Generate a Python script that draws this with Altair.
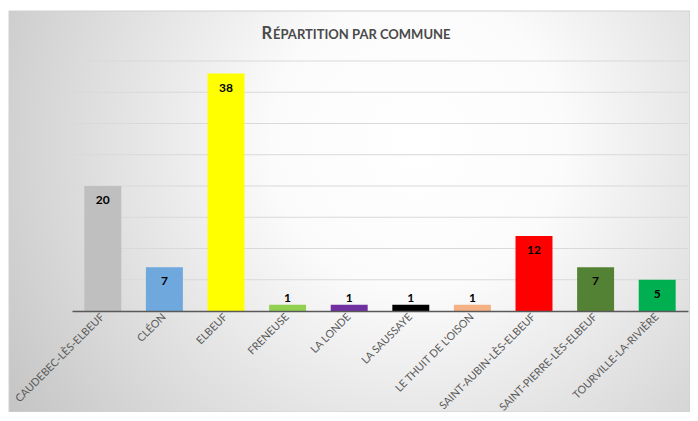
import altair as alt
import pandas as pd

communes = ["CAUDEBEC-LÈS-ELBEUF", "CLÉON", "ELBEUF", "FRENEUSE", "LA LONDE",
            "LA SAUSSAYE", "LE THUIT DE L'OISON", "SAINT-AUBIN-LÈS-ELBEUF",
            "SAINT-PIERRE-LÈS-ELBEUF", "TOURVILLE-LA-RIVIÈRE"]
valeurs = [20, 7, 38, 1, 1, 1, 1, 12, 7, 5]
couleurs = ["#BFBFBF", "#6FA8DC", "#FFFF00", "#92D050", "#7030A0",
            "#000000", "#F4B183", "#FF0000", "#548235", "#00B050"]
grille = [5, 10, 15, 20, 25, 30, 35, 40]

df = pd.DataFrame({"commune": communes, "valeur": valeurs, "couleur": couleurs})
df_grid = pd.DataFrame({"valeur": grille})

yscale = alt.Scale(domain=[0, 40], nice=False)
xenc = alt.X("commune:N", sort=communes,
             scale=alt.Scale(paddingInner=0.4, paddingOuter=0.2),
             axis=alt.Axis(title=None, labelAngle=315, labelAlign="right",
                           labelBaseline="middle", labelFont="Lato",
                           labelFontSize=10.7, labelColor="#595959", ticks=False,
                           domainColor="#595959", domainWidth=1.5,
                           labelPadding=4, grid=False, zindex=1,
                           labelOverlap=False, labelLimit=300))

gradient = {"gradient": "radial", "x1": 0.6, "y1": 0.4, "r1": 0.0,
            "x2": 0.6, "y2": 0.4, "r2": 0.72,
            "stops": [{"offset": 0.0, "color": "#ffffff"},
                      {"offset": 0.3, "color": "#fbfbfb"},
                      {"offset": 1.0, "color": "#c4c4c4"}]}

bg = alt.Chart(alt.Data(values=[{}])).mark_rect(
    color=gradient, stroke="#d0d0d0", strokeWidth=1
).encode(x=alt.value(-63), x2=alt.value(618), y=alt.value(-50), y2=alt.value(351))

grid = alt.Chart(df_grid).mark_rule(color="#d9d9d9", strokeWidth=1).encode(
    y=alt.Y("valeur:Q", scale=yscale, axis=None))

bars = alt.Chart(df).mark_bar().encode(
    x=xenc,
    y=alt.Y("valeur:Q", scale=yscale, axis=None),
    color=alt.Color("couleur:N", scale=None))

lab_in = alt.Chart(df).transform_filter("datum.valeur >= 5").mark_text(
    font="Lato", fontSize=12, fontWeight="bold", color="#000000",
    dy=14, baseline="middle").encode(
    x=alt.X("commune:N", sort=communes), y=alt.Y("valeur:Q", scale=yscale, axis=None),
    text="valeur:Q")

lab_out = alt.Chart(df).transform_filter("datum.valeur < 5").mark_text(
    font="Lato", fontSize=12, fontWeight="bold", color="#000000",
    dy=-7, baseline="middle").encode(
    x=alt.X("commune:N", sort=communes), y=alt.Y("valeur:Q", scale=yscale, axis=None),
    text="valeur:Q")

t1 = alt.Chart(alt.Data(values=[{}])).mark_text(
    text="R", font="Lato", fontSize=16.5, fontWeight="bold", color="#4a4a4a",
    align="right", baseline="alphabetic").encode(x=alt.value(200), y=alt.value(-22))
t2 = alt.Chart(alt.Data(values=[{}])).mark_text(
    text="ÉPARTITION PAR COMMUNE", font="Lato", fontSize=13, fontWeight="bold",
    color="#4a4a4a", align="left", baseline="alphabetic").encode(
    x=alt.value(201), y=alt.value(-22))

chart = alt.layer(bg, grid, bars, lab_in, lab_out, t1, t2).properties(
    width=616, height=250,
    autosize=alt.AutoSizeParams(type="none"),
    padding={"left": 64, "top": 53, "right": 2, "bottom": 101},
    background="#ffffff",
).configure_view(stroke=None)

chart.save("out.html", embed_options={"renderer": "svg", "actions": False})
